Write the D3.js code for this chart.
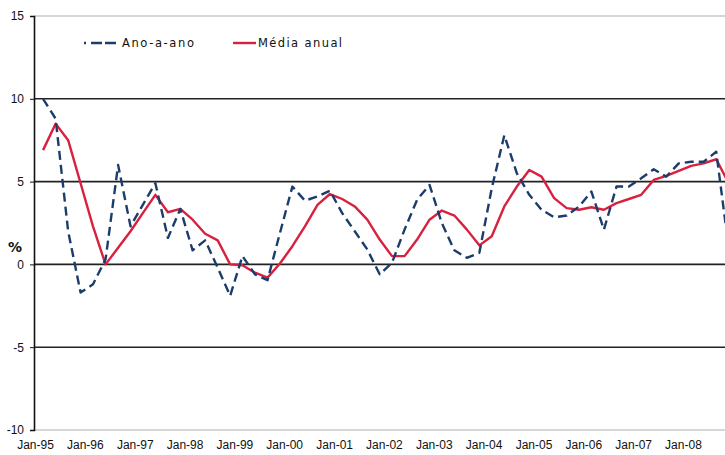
<!DOCTYPE html>
<html><head><meta charset="utf-8">
<script src="https://cdn.jsdelivr.net/npm/d3@7"></script>
<style>
html,body{margin:0;padding:0;background:#fff;}
svg{display:block;}
</style>
</head><body>
<svg id="c" width="725" height="455"></svg>
<script>
const periods = ["1995-03","1995-06","1995-09","1995-12","1996-03","1996-06","1996-09","1996-12",
"1997-03","1997-06","1997-09","1997-12","1998-03","1998-06","1998-09","1998-12",
"1999-03","1999-06","1999-09","1999-12","2000-03","2000-06","2000-09","2000-12",
"2001-03","2001-06","2001-09","2001-12","2002-03","2002-06","2002-09","2002-12",
"2003-03","2003-06","2003-09","2003-12","2004-03","2004-06","2004-09","2004-12",
"2005-03","2005-06","2005-09","2005-12","2006-03","2006-06","2006-09","2006-12",
"2007-03","2007-06","2007-09","2007-12","2008-03","2008-06","2008-09","2008-12"];
const anoAAno = [10.0,8.8,2.0,-1.7,-1.2,0.3,6.0,2.3,
3.6,4.9,1.6,3.35,0.85,1.45,-0.2,-1.9,
0.5,-0.6,-0.95,1.9,4.7,3.85,4.1,4.45,
3.1,2.0,0.9,-0.6,0.1,2.1,3.9,4.8,
2.5,0.85,0.4,0.7,4.6,7.8,5.5,4.2,
3.3,2.85,2.95,3.5,4.4,2.1,4.7,4.7,
5.2,5.75,5.3,6.1,6.2,6.2,6.8,1.0];
const mediaAnual = [6.9,8.5,7.5,4.9,2.3,0.0,1.0,2.0,
3.1,4.2,3.15,3.35,2.7,1.85,1.45,0.0,
-0.05,-0.5,-0.8,0.05,1.1,2.3,3.6,4.25,
3.95,3.5,2.7,1.5,0.5,0.5,1.5,2.7,
3.25,2.95,2.1,1.15,1.7,3.5,4.7,5.7,
5.3,4.0,3.4,3.3,3.45,3.3,3.7,3.95,
4.2,5.1,5.35,5.65,5.95,6.1,6.35,4.9];
const yTicks = [-10,-5,0,5,10,15];
const xTickYears = [1995,1996,1997,1998,1999,2000,2001,2002,2003,2004,2005,2006,2007,2008];
const seriesNames = ["Ano-a-ano","Média anual"];

const svg = d3.select("#c");
const parse = d3.timeParse("%Y-%m");
const dates = periods.map(parse);

const x = d3.scaleTime().domain([new Date(1995,0,1), new Date(2009,0,1)]).range([35, 35 + 14*49.85]);
const y = d3.scaleLinear().domain([-10,15]).range([430,16]);
const axisX = 34, right = 725;

// gridlines
svg.append("g").selectAll("line").data(yTicks).join("line")
  .attr("x1", axisX).attr("x2", right)
  .attr("y1", d=>y(d)).attr("y2", d=>y(d))
  .attr("stroke", d => (d===15||d===-10) ? "#c8c8c8" : "#222")
  .attr("stroke-width", d => (d===15||d===-10) ? 1.5 : 1.6);

// y axis
const ya = svg.append("g").attr("transform", `translate(${axisX},0)`)
  .call(d3.axisLeft(y).tickValues(yTicks).tickSize(4).tickPadding(6).tickFormat(d => String(d)));
ya.select(".domain").attr("stroke","#111").attr("stroke-width",1.6);
ya.selectAll(".tick line").attr("stroke","#111");
ya.selectAll("text").attr("font-family","Liberation Sans, Arial, sans-serif").attr("font-size",12).attr("fill","#111");

// % label
svg.append("text").attr("x",15).attr("y",252).attr("text-anchor","middle")
  .attr("font-family","DejaVu Sans, Verdana, sans-serif").attr("font-weight","bold").attr("font-size",14)
  .attr("fill","#111").text("%");

// x axis labels
const xa = svg.append("g").attr("transform","translate(0,436)")
  .call(d3.axisBottom(x).tickValues(xTickYears.map(yy=>new Date(yy,0,1))).tickSize(0).tickPadding(4)
  .tickFormat(d3.timeFormat("Jan-%y")));
xa.select(".domain").remove();
xa.selectAll("text").attr("font-family","Liberation Sans, Arial, sans-serif").attr("font-size",12).attr("fill","#111");

// lines
const line = vals => d3.line().x((d,i)=>x(dates[i])).y(d=>y(d))(vals);
const blue = "#1c3d6b", red = "#d8203f";
svg.append("path").attr("d", line(mediaAnual)).attr("fill","none").attr("stroke",red)
  .attr("stroke-width",2.4).attr("stroke-linejoin","round");
svg.append("path").attr("d", line(anoAAno)).attr("fill","none").attr("stroke",blue)
  .attr("stroke-width",2.4).attr("stroke-dasharray","9,5").attr("stroke-linejoin","round");

// legend
const lg = svg.append("g").attr("font-family","DejaVu Sans, Verdana, sans-serif").attr("font-size",11.5).attr("fill","#111");
lg.append("line").attr("x1",84).attr("x2",119).attr("y1",43).attr("y2",43)
  .attr("stroke",blue).attr("stroke-width",2.4).attr("stroke-dasharray","2,5,11,3,11,3");
lg.append("text").attr("x",122).attr("y",47).attr("letter-spacing",1.6).text(seriesNames[0]);
lg.append("line").attr("x1",233).attr("x2",256).attr("y1",43).attr("y2",43)
  .attr("stroke",red).attr("stroke-width",2.4);
lg.append("text").attr("x",258).attr("y",47).attr("letter-spacing",1.4).text(seriesNames[1]);
</script>
</body></html>
